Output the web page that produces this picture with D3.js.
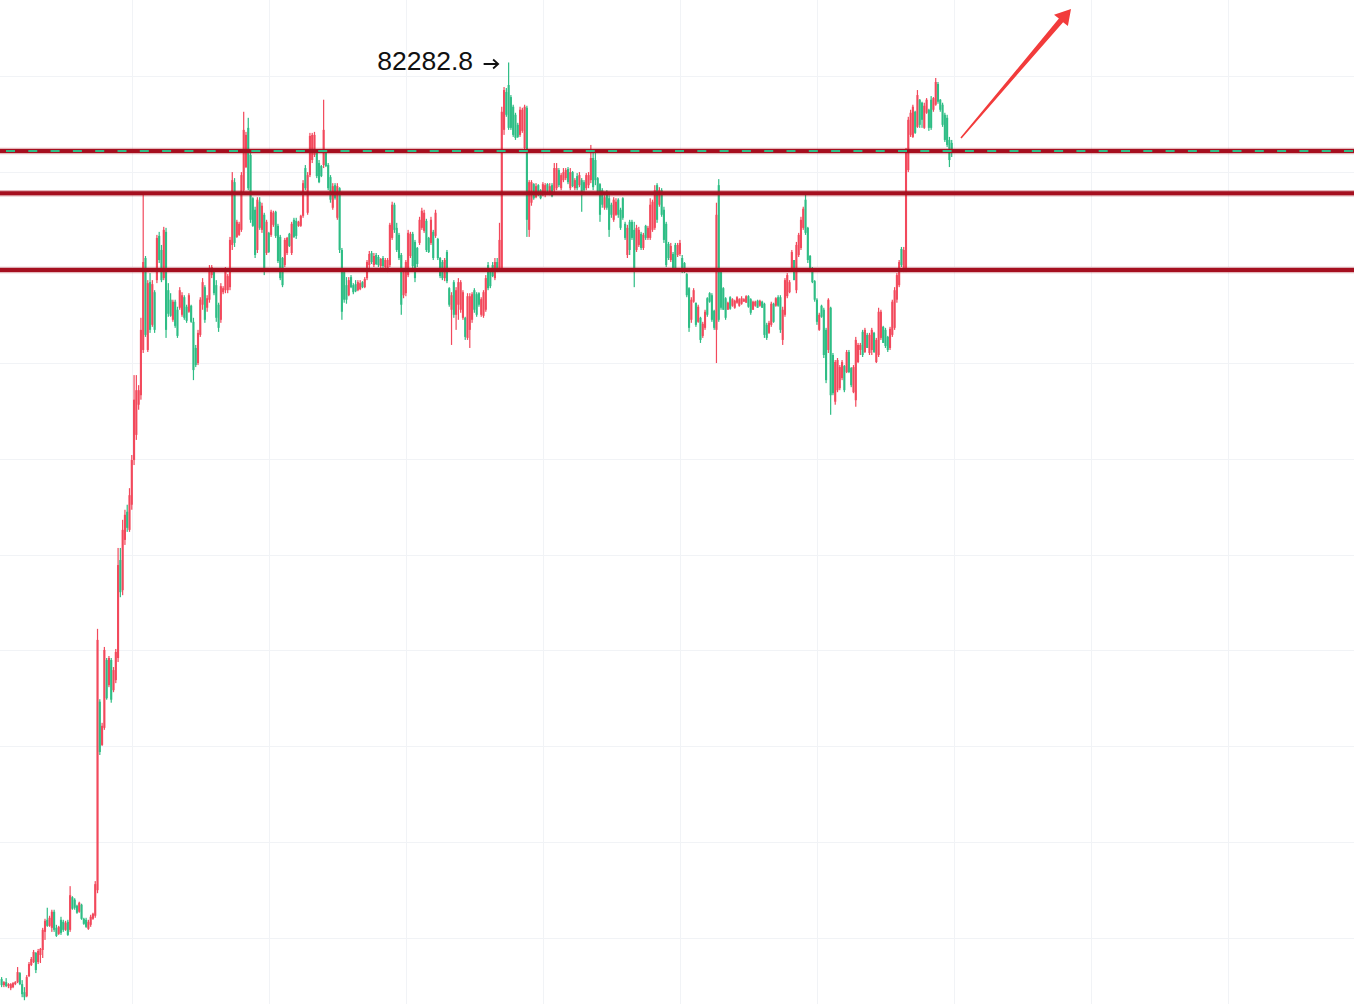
<!DOCTYPE html>
<html><head><meta charset="utf-8">
<script src="https://cdn.jsdelivr.net/npm/d3@7"></script>
<style>html,body{margin:0;padding:0;background:#fff;overflow:hidden}svg{display:block}</style>
</head><body>
<svg id="chart" width="1354" height="1004"></svg>
<script>
// 4h candles (index order), prices
const opens = [
63134,63008,63071,62987,62945,62966,63029,63071,63260,63029,
62861,62777,63197,63428,63491,63680,63491,63638,63743,64121,
64373,64247,64205,64541,64205,64079,64373,64331,64163,64331,
64163,64845,64793,64667,64541,64688,64394,64373,64184,64268,
64394,64457,64992,68929,68026,68383,69800,69275,69800,69170,
69380,69842,71889,71259,72309,72897,72519,73044,73978,74503,
75133,75332,76277,78198,76277,77694,76802,77484,77736,78660,
78366,77778,78744,77526,77327,76907,77285,77117,77159,77012,
77379,77180,77075,77201,76865,76319,76004,76592,77222,77589,
77159,77327,77841,77946,77631,77222,76907,77484,77526,77526,
77589,78471,79783,78639,78681,78786,79615,80098,80917,80350,
79447,79206,78366,79374,78786,79101,78303,78723,78681,78891,
79164,78870,78639,78198,78051,78303,78702,78303,78996,78975,
78870,78870,79080,80077,79143,79930,80245,80350,80392,80182,
80119,80140,80413,80140,79888,79248,79720,79038,79657,78366,
77904,77631,77421,77799,77631,77652,77526,77547,77694,77589,
77778,78051,78303,78051,78261,78219,78030,78198,78009,77946,
78051,78618,79311,78828,78681,78261,77421,77463,77841,78240,
78702,78534,78408,78513,78828,78765,78975,78618,78513,78744,
78660,78597,78198,78114,77778,78324,77568,77117,77694,77012,
77222,77117,76949,76949,76529,76697,76907,77526,77442,77463,
77012,76991,77117,78051,77946,78051,77778,78114,77988,77988,
80875,81665,81812,81560,81358,81190,80980,80770,80854,80497,
81337,78786,79353,79741,79468,79720,79615,79510,79531,79741,
79531,79720,79615,79657,80035,79657,79825,79867,80056,79657,
79993,79657,79909,79720,79825,79783,79657,79720,79825,80287,
80245,79867,79741,79615,79248,79573,79447,79311,78996,79101,
79416,79206,79447,78912,78261,78954,78954,78786,78366,78471,
78702,78408,78870,78618,78618,78786,78828,79720,79311,79615,
79206,78912,78492,78156,78282,78471,78261,78282,78198,78093,
77862,77568,76907,77285,77264,76865,76949,76571,76739,77358,
77463,77421,77096,76697,79720,77904,77568,77358,77117,77379,
77201,77159,77264,77201,77243,77285,77264,77400,77337,77117,
77201,77306,77201,77285,77243,76802,76634,76802,77243,77201,
77379,77379,76487,77012,77400,77484,77988,78156,77526,78261,
78408,78828,79416,78828,78240,77988,77715,77327,76697,77201,
77117,76697,76277,77159,76172,75196,75437,75479,75689,75941,
75815,76235,75899,75395,75227,76025,76277,76655,76235,76592,
76214,76277,76634,76025,76172,76529,76760,76697,76550,76319,
76592,76739,77327,77631,78387,77946,77946,80035,80770,80728,
81253,80938,81505,81442,80917,81232,81295,81505,81295,81400,
81833,81505,81400,81190,81127,80665,80602];
const highs = [
63176,63092,63155,63050,63050,63071,63092,63386,63281,63113,
62966,63218,63491,63596,63743,63701,63764,63785,64205,64394,
64625,64457,64583,64583,64268,64247,64436,64373,64352,64373,
65076,64866,64824,64688,64751,64709,64415,64415,64373,64478,
64520,65181,70451,68981,68488,70073,69842,69884,69842,69653,
70031,72141,72141,72729,72939,73044,73390,74083,75752,75752,
75542,76949,79552,78240,77736,77883,77736,77526,78681,78744,
78471,78849,78828,77673,77463,77327,77327,77180,77589,77484,
77421,77222,77463,77222,76949,76382,76697,77379,77778,77631,
77421,78051,78051,77988,77736,77264,77673,77610,78009,77862,
78639,79993,79867,78996,78954,79993,81253,80833,81127,80413,
79468,79269,79468,79468,79353,79143,78996,78744,79206,79185,
79185,78912,78681,78219,78618,78639,78723,78954,79038,79038,
78975,79101,79825,80140,79993,80812,80812,80833,80413,80245,
80140,81505,80455,80182,79930,79762,79762,79762,79678,78408,
77946,77799,77799,77841,77673,77736,77736,77736,77715,77799,
78156,78345,78345,78303,78303,78261,78198,78240,78198,78198,
78933,79374,79353,78933,78723,78303,77946,78156,78786,78744,
78744,78576,78429,79059,79248,79206,79017,78639,79059,78786,
79206,78618,78219,78156,78198,78366,77589,77484,77736,77589,
77778,77736,77526,76970,77463,77463,77484,77568,77484,77484,
77379,77526,77841,78114,77988,78114,78198,78198,78933,81358,
81770,81749,82282.8,81602,81400,81232,81022,81358,81337,81400,
81379,79825,79825,79762,79762,79741,79636,79783,79762,79762,
79762,79762,80182,80182,80077,79972,80077,80077,80098,80077,
80014,79867,79972,79993,79867,79825,79972,79993,80560,80413,
80392,79888,79762,79657,79510,79615,79510,79353,79468,79447,
79447,79248,79468,78954,78891,78996,78996,78954,78891,78849,
78744,78723,78891,78870,79447,79416,79720,79762,79678,79657,
79269,78954,78534,78513,78324,78513,78513,78576,78261,78114,
77883,77589,77379,77568,77264,77222,76970,76865,77117,77379,
77484,77463,77117,79353,79846,77946,77589,77379,77285,77400,
77358,77327,77400,77358,77400,77358,77421,77421,77358,77306,
77306,77327,77327,77306,77264,76844,76886,77285,77264,77379,
77421,77421,77180,77778,77883,77736,78366,78156,78534,78723,
79059,79269,79552,78849,78261,78009,77736,77358,77054,77222,
77159,76739,77358,77180,76214,76067,76109,75962,76067,75962,
76277,76277,75920,75962,76550,76424,76424,76697,76739,76634,
76634,76739,76655,76529,77159,77117,76781,76739,76571,76760,
77327,77589,77883,78156,78429,78429,80497,81148,81295,81400,
81274,81707,81518,81463,81442,81539,81316,81581,81560,81959,
81875,81518,81442,81232,81190,80728,80665];
const lows = [
62966,62966,62966,62945,62903,62945,63008,63050,63008,62756,
62693,62756,63176,63407,63470,63260,63449,63470,63575,63953,
64226,64226,64121,64121,64016,64058,64058,64121,64142,64037,
64121,64583,64583,64499,64520,64373,64268,64205,64163,64226,
64373,64415,64929,67816,68005,68341,68971,69233,68908,69128,
69317,69758,71112,71154,72204,72477,72477,72939,73873,74398,
75028,75238,76214,76550,76235,76634,76760,76634,77673,78093,
77694,77736,76529,76970,76970,76865,76739,76529,77117,76970,
76907,76844,77054,76844,75647,75920,75962,76550,77117,76844,
77075,77264,77778,77421,76865,76655,76844,77442,77463,77463,
77526,78366,78429,78618,78660,78744,79573,80077,79615,78933,
78849,78198,78303,78786,78723,77841,78261,78303,78639,78849,
78618,78093,77736,77589,78009,78261,78429,78261,78618,78597,
78849,78849,79038,79615,79101,79888,80182,80308,79867,79762,
79888,80077,80098,79615,79353,79206,79416,78996,78303,76907,
77264,77243,77400,77568,77442,77484,77505,77526,77568,77568,
77736,77988,78072,78009,78051,78009,77988,77988,77988,77904,
78009,78576,78723,78324,78156,77012,77358,77400,77799,78198,
77946,77694,78009,78471,78786,78723,78324,78303,78471,78156,
78618,78156,77778,77736,77715,77673,77180,76382,76949,76697,
76907,77054,76907,76487,76487,76319,76844,77054,76970,77180,
76970,76949,77075,77526,77568,77799,77736,77904,77946,77946,
80770,81148,80875,80875,80728,80665,80707,80728,80812,80455,
78639,78639,79290,79416,79447,79489,79426,79489,79468,79573,
79510,79468,79573,79615,79678,79615,79783,79825,79741,79615,
79678,79615,79615,79678,79164,79573,79615,79657,79762,79615,
79720,79552,78954,79248,79206,79206,78639,79038,78954,79080,
79038,78786,78996,78576,78198,78261,78576,77589,78324,78429,
78366,78366,78576,78576,78576,78744,78786,78933,79269,79059,
78513,78009,78156,78114,77946,77946,78219,78240,77883,77883,
77379,76655,76844,77264,76760,76844,76424,76529,76697,76970,
77264,76865,76697,76004,76865,77117,77117,76907,77117,77117,
77180,77138,77243,77180,77222,77285,77264,77159,77012,77117,
77180,77159,77180,77159,76529,76487,76613,76760,76844,77180,
77180,76634,76382,76970,77358,77463,77946,77736,77463,78219,
78366,78786,78681,78093,77904,77673,77285,76802,76676,76949,
76109,75584,76214,74923,75332,75133,75395,75437,75647,75395,
75794,75794,75500,75374,75091,76004,76172,76130,76214,76319,
76172,76172,76214,76004,76130,76487,76424,76319,76235,76277,
76550,76697,77264,77589,78009,77904,77904,79993,80728,80707,
80791,80917,80917,80917,80896,81211,80854,80875,81253,81379,
81421,81253,80938,80623,80518,80098,80308];
const closes = [
63008,63071,62987,63029,63029,63050,63071,63281,63029,62819,
62756,63176,63449,63554,63701,63323,63722,63764,64163,64352,
64247,64415,64541,64163,64037,64226,64100,64163,64310,64058,
64887,64604,64625,64520,64730,64394,64289,64226,64331,64436,
64499,65118,70220,67879,68425,70010,69002,69842,68971,69590,
69968,71784,71217,72519,72834,72561,73243,73978,75238,75437,
75437,76697,78114,76592,77673,76697,77652,76697,78618,78156,
77736,78786,76697,77033,76991,77285,76781,76571,77526,77421,
76949,76886,77421,76865,75857,75962,76634,77327,77694,76907,
77358,77988,78009,77463,76949,76739,77610,77568,77946,77820,
78576,79825,78513,78954,78912,79930,80875,80770,79657,78996,
78870,78261,79416,78828,79290,77946,78954,78324,79164,79143,
78660,78135,77778,77631,78576,78618,78450,78912,78639,78660,
78954,79080,79762,79657,79930,80749,80770,80770,79909,79783,
79909,80875,80119,79657,79416,79699,79447,79699,78366,77075,
77327,77327,77736,77589,77484,77505,77694,77673,77589,77757,
78114,78282,78114,78240,78072,78051,78177,78030,78156,78156,
78891,79311,78786,78366,78198,77222,77904,78114,78723,78702,
78030,77778,78072,78996,79185,79143,78366,78324,78996,78198,
79143,78198,77820,77778,78156,77715,77222,77421,77012,77526,
77694,77694,77484,76550,77400,77400,77442,77117,77012,77222,
77337,77484,77778,77568,77610,77820,78114,77946,78576,81253,
81707,81190,80917,80917,80770,80707,80728,81295,81295,81358,
78996,79783,79783,79447,79699,79510,79447,79741,79720,79594,
79699,79489,80077,80077,79720,79930,79993,80035,79783,79993,
79699,79825,79657,79930,79510,79615,79930,79930,80287,79678,
79825,79573,79101,79311,79468,79248,78786,79101,79416,79374,
79101,78828,79038,78618,78828,78366,78618,77988,78828,78786,
78408,78681,78618,78828,79311,79374,79615,78996,79615,79101,
78576,78051,78198,78450,77988,77988,78471,78513,77946,77904,
77421,76739,77327,77526,76802,77180,76487,76823,77075,77012,
77285,76907,76739,79101,76907,77159,77117,76949,77264,77138,
77337,77306,77379,77337,77358,77337,77400,77180,77054,77285,
77285,77159,77306,77159,76592,76529,76844,77243,76865,77358,
77201,76697,77117,77736,77841,77694,78324,77736,78471,78681,
78996,79227,78723,78156,77946,77694,77327,76865,77012,76970,
76172,75647,77327,75332,75374,76025,76067,75920,76025,75437,
76235,75815,75542,75920,76487,76382,76382,76172,76697,76319,
76592,76697,76235,76487,77075,77075,76424,76361,76277,76718,
77285,77526,77841,78114,78051,78366,80455,81085,81232,81358,
80812,81602,80980,81085,81379,81505,80917,80917,81539,81875,
81463,81295,80980,80665,80560,80245,80434];

// horizontal levels drawn on the chart (support / resistance)
const levels = [80434, 79552, 77946];
// grid: price ticks and candle-index ticks (every 60 candles = 10 days)
const gridPrices = [82000, 80000, 78000, 76000, 74000, 72000, 70000, 68000, 66000, 64000];
const gridCandles = [57, 117, 177, 237, 297, 357, 417, 477, 537];

const W = 1354, H = 1004;
const UP = "#F2495C", DOWN = "#2EBD85";
const n = Math.min(opens.length, highs.length, lows.length, closes.length);
const data = d3.range(n).map(i => ({i, o: opens[i], h: highs[i], l: lows[i], c: closes[i]}));

const svg = d3.select("#chart");
svg.append("rect").attr("width", W).attr("height", H).attr("fill", "#fff");

const x = d3.scaleLinear().domain([0, 416]).range([1.6, 951.7]);
const y = d3.scaleLinear().domain([62614, 83588]).range([H, 0]);

// grid
const grid = svg.append("g").attr("stroke", "#F1F3F6").attr("stroke-width", 1);
grid.selectAll("line.h").data(gridPrices).join("line").attr("class", "h")
  .attr("x1", 0).attr("x2", W)
  .attr("y1", d => Math.round(y(d)) + 0.5).attr("y2", d => Math.round(y(d)) + 0.5);
grid.selectAll("line.v").data(gridCandles).join("line").attr("class", "v")
  .attr("y1", 0).attr("y2", H)
  .attr("x1", d => Math.round(x(d)) + 0.5).attr("x2", d => Math.round(x(d)) + 0.5);

// candles
const cg = svg.append("g");
const col = d => d.c >= d.o ? UP : DOWN;
cg.selectAll("rect.wick").data(data).join("rect").attr("class", "wick")
  .attr("x", d => x(d.i) - 0.6).attr("width", 1.2)
  .attr("y", d => y(d.h)).attr("height", d => Math.max(1, y(d.l) - y(d.h)))
  .attr("fill", col);
cg.selectAll("rect.body").data(data).join("rect").attr("class", "body")
  .attr("x", d => x(d.i) - 1.05).attr("width", 2.1)
  .attr("y", d => y(Math.max(d.o, d.c)))
  .attr("height", d => Math.max(1, Math.abs(y(d.o) - y(d.c))))
  .attr("fill", col);

// level lines
const lg = svg.append("g");
lg.selectAll("line.halo").data(levels).join("line").attr("class", "halo")
  .attr("x1", 0).attr("x2", W).attr("y1", d => y(d)).attr("y2", d => y(d))
  .attr("stroke", "#A50F1F").attr("stroke-opacity", 0.3).attr("stroke-width", 6.5);
lg.selectAll("line.core").data(levels).join("line").attr("class", "core")
  .attr("x1", 0).attr("x2", W).attr("y1", d => y(d)).attr("y2", d => y(d))
  .attr("stroke", "#A50F1F").attr("stroke-width", 4);

// last price dashed line
const last = closes[n - 1];
svg.append("line").attr("x1", 0).attr("x2", W)
  .attr("y1", y(last)).attr("y2", y(last))
  .attr("stroke", DOWN).attr("stroke-width", 2)
  .attr("stroke-dasharray", "9 13.3").attr("stroke-dashoffset", 16.3);

// peak label
const pk = d3.maxIndex(highs);
const px = x(pk), py = y(highs[pk]);
svg.append("text").attr("x", px - 35.5).attr("y", py + 7.4)
  .attr("text-anchor", "end")
  .attr("font-family", "'Liberation Sans', Arial, sans-serif")
  .attr("font-size", 26.5).attr("fill", "#111")
  .text(d3.format(".1f")(highs[pk]));
const ax1 = px - 25, ax2 = px - 10.5, ay = py + 1.5;
svg.append("path")
  .attr("d", `M${ax1},${ay}H${ax2}M${ax2 - 5},${ay - 4.5}L${ax2},${ay}L${ax2 - 5},${ay + 4.5}`)
  .attr("fill", "none").attr("stroke", "#111").attr("stroke-width", 1.8);

// red trend arrow annotation
svg.append("polygon")
  .attr("points", "960.4,137.6 1058.9,18.6 1054,14.8 1071,9 1067.9,25.9 1063.1,22.2 961.6,138.4")
  .attr("fill", "#F23B3B");
</script>
</body></html>
